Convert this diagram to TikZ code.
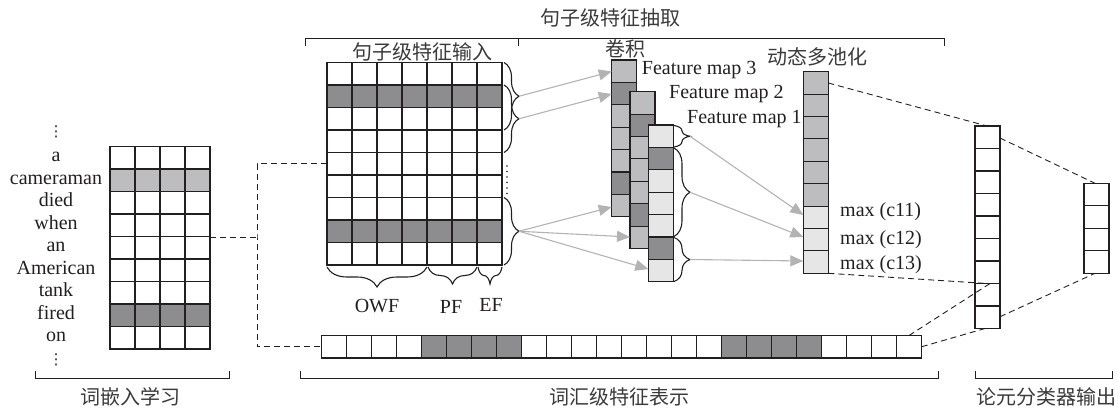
\documentclass[tikz,border=0pt]{standalone}
\usepackage{fontspec}
\setmainfont{Liberation Serif}
\newfontfamily\cjk{Noto Sans CJK SC}
\newfontfamily\dejavu{DejaVu Sans}
\usetikzlibrary{arrows.meta,decorations.pathreplacing}
\definecolor{dk}{HTML}{8D8D8F}
\definecolor{lt}{HTML}{BDBDBF}
\definecolor{vl}{HTML}{E6E6E7}
\definecolor{arr}{HTML}{B3B3B3}
\definecolor{ink}{HTML}{231F20}
\definecolor{zink}{HTML}{3A3A3A}
\begin{document}
\begin{tikzpicture}[x=1pt,y=-1pt,
  cell/.style={draw=ink,line width=1.1pt},
  en/.style={font=\fontsize{20}{22}\selectfont,text=ink,inner sep=0pt},
  dots/.style={font=\dejavu\fontsize{15}{15}\selectfont,text=ink,inner sep=0pt},
  zh/.style={font=\cjk\fontsize{20}{22}\selectfont,text=zink,inner sep=0pt},
  brk/.style={draw=ink,line width=0.9pt},
  dsh/.style={draw=ink,line width=0.9pt,dash pattern=on 6pt off 4pt},
  garr/.style={draw=arr,line width=1.1pt,-{Triangle[length=13pt,width=11pt]}},
  brc/.style={draw=ink,line width=1.1pt,decorate,decoration={brace,amplitude=#1}}]
\useasboundingbox (0,0) rectangle (1118,407);

% ---------- left grid (word embeddings)
\foreach \cl [count=\i from 0] in {white,lt,white,white,white,white,white,dk,white}
  \foreach \j in {0,...,3}
    \draw[cell,fill=\cl] ({110+25*\j},{146.5+22.5*\i}) rectangle ++(25,22.5);
\foreach \w [count=\i from 0] in {a,cameraman,died,when,an,American,tank,fired,on}
  \node[en,anchor=base] (w\i) at (56,{146.5+22.5*\i+15.25}) {\w};
\node[dots] (vtop) at (56,132) {⋮};
\node[dots] (vbot) at (56,360) {⋮};

% ---------- sentence grid
\foreach \cl [count=\i from 0] in {white,dk,white,white,white,white,white,dk,white}
  \foreach \j in {0,...,6}
    \draw[cell,fill=\cl] ({327+25*\j},{62.5+22.5*\i}) rectangle ++(25,22.5);

% ---------- word-level row
\foreach \cl [count=\j from 0] in {white,white,white,white,dk,dk,dk,dk,white,white,white,white,white,white,white,white,dk,dk,dk,dk,white,white,white,white}
  \draw[cell,fill=\cl] ({321.7+25*\j},335.5) rectangle ++(25,22.5);

% ---------- feature maps
\foreach \cl [count=\i from 0] in {lt,dk,lt,lt,lt,dk,lt}
  \draw[cell,fill=\cl] (611.7,{60+22.4*\i}) rectangle ++(25,22.4);
\foreach \cl [count=\i from 0] in {lt,dk,lt,lt,lt,dk,lt}
  \draw[cell,fill=\cl] (630,{91.7+22.4*\i}) rectangle ++(25,22.4);
\foreach \cl [count=\i from 0] in {vl,dk,vl,vl,vl,dk,vl}
  \draw[cell,fill=\cl] (648.3,{125+22.4*\i}) rectangle ++(25,22.4);

% ---------- pooling column
\foreach \cl [count=\i from 0] in {lt,lt,lt,lt,lt,lt,vl,vl,vl}
  \draw[cell,fill=\cl] (803.3,{71.7+22.4*\i}) rectangle ++(25,22.4);

% ---------- concatenated column and output
\foreach \i in {0,...,8}
  \draw[cell,fill=white] (975,{126+22.5*\i}) rectangle ++(25,22.5);
\foreach \i in {0,...,3}
  \draw[cell,fill=white] (1084,{183.3+22.5*\i}) rectangle ++(25,22.5);

% ---------- labels
\node[en,anchor=base west] (fm3) at (641.7,74.5) {Feature map 3};
\node[en,anchor=base west] (fm2) at (669,98) {Feature map 2};
\node[en,anchor=base west] (fm1) at (687,123) {Feature map 1};
\node[en,anchor=base west] (m1) at (840,216) {max (c11)};
\node[en,anchor=base west] (m2) at (840,244) {max (c12)};
\node[en,anchor=base west] (m3) at (840,269) {max (c13)};
\node[en,anchor=base] (owf) at (377,312.5) {OWF};
\node[en,anchor=base] (pf) at (451,313.5) {PF};
\node[en,anchor=base] (ef) at (491,311) {EF};

\node[zh] (t0) at (610,18) {句子级特征抽取};
\node[zh] (t1) at (422,52) {句子级特征输入};
\node[zh] (t2) at (625,49) {卷积};
\node[zh] (t3) at (817,57) {动态多池化};
\node[zh] (l1) at (130,397) {词嵌入学习};
\node[zh] (l2) at (619,397) {词汇级特征表示};
\node[zh] (l3) at (1046,397) {论元分类器输出};

% ---------- brackets
\draw[brk] (305,46) -- (305,38) -- (944,38) -- (944,46);
\draw[brk] (518,38) -- (518,46);
\draw[brk] (35,371) -- (35,378.5) -- (229,378.5) -- (229,371);
\draw[brk] (300,371) -- (300,378.5) -- (938,378.5) -- (938,371);
\draw[brk] (975,371) -- (975,378.5) -- (1112,378.5) -- (1112,371);

% ---------- braces
\draw[brc=15pt] (504,62.5) -- (504,130);
\draw[brc=15pt] (504,85) -- (504,152.5);
\draw[brc=15pt] (504,197.5) -- (504,265);
\draw[ink,line width=1.8pt,line cap=round,dash pattern=on 0pt off 5.5pt] (507,166) -- (507,196);
\draw[brc=20pt] (427,267) -- (327,267);
\draw[brc=17pt] (477,267) -- (428,267);
\draw[brc=17pt] (502,267) -- (478,267);
\draw[brc=16pt] (674,125.5) -- (674,147);
\draw[brc=16pt] (674,148) -- (674,236.5);
\draw[brc=16pt] (674,237.5) -- (674,281.5);

% ---------- named connection points
\coordinate (bA) at (519,96.25);
\coordinate (bB) at (519,118.75);
\coordinate (bC) at (519,231.25);
\coordinate (f3a) at (611.7,71.5);
\coordinate (f3b) at (611.7,94);
\coordinate (f3g) at (611.7,207);
\coordinate (f2g) at (630,237);
\coordinate (f1g) at (648.3,269);
\coordinate (q1) at (690,136.25);
\coordinate (q2) at (690,192.25);
\coordinate (q3) at (690,259.5);
\coordinate (p7) at (803.3,215);
\coordinate (p8) at (803.3,237);
\coordinate (p9) at (803.3,261);
\coordinate (lgR) at (210,237);
\coordinate (jn) at (257,237);
\coordinate (sgL) at (327,163.75);
\coordinate (wrL) at (321.7,346.75);
\coordinate (poolT) at (828.3,83);
\coordinate (poolB) at (828.3,273.3);
\coordinate (colT) at (987,126);
\coordinate (colM) at (987,283.5);
\coordinate (colM2) at (990,283.5);
\coordinate (colB) at (985,328.5);
\coordinate (colRT) at (1000,138);
\coordinate (colRB) at (1000,316.7);
\coordinate (outT) at (1095,183.3);
\coordinate (outB) at (1095,273.3);
\coordinate (wrT) at (909,335.5);
\coordinate (wrR) at (921.7,346.7);

% ---------- gray arrows
\draw[garr] (bA) -- (f3a);
\draw[garr] (bB) -- (f3b);
\draw[garr] (bC) -- (f3g);
\draw[garr] (bC) -- (f2g);
\draw[garr] (bC) -- (f1g);
\draw[garr] (q1) -- (p7);
\draw[garr] (q2) -- (p8);
\draw[garr] (q3) -- (p9);

% ---------- dashed connectors
\draw[dsh] (lgR) -- (jn);
\draw[dsh] (sgL) -| (jn) |- (wrL);
\draw[dsh] (poolT) -- (colT);
\draw[dsh] (poolB) -- (colM);
\draw[dsh] (wrT) -- (colM2);
\draw[dsh] (wrR) -- (colB);
\draw[dsh] (colRT) -- (outT);
\draw[dsh] (colRB) -- (outB);
\end{tikzpicture}
\end{document}
